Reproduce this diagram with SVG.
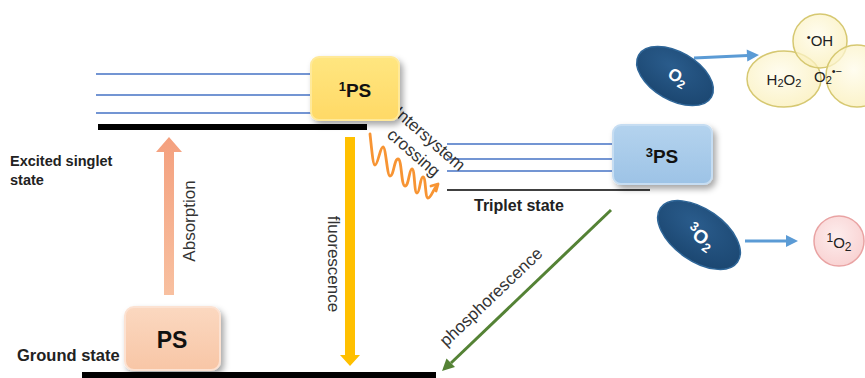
<svg xmlns="http://www.w3.org/2000/svg" width="865" height="378" viewBox="0 0 865 378">
<defs>
  <style>
    .lbl{font-family:"Liberation Sans","DejaVu Sans",sans-serif;font-weight:bold;fill:#222;}
    .rot{font-family:"Liberation Sans","DejaVu Sans",sans-serif;fill:#333;font-size:17px;}
    .box{font-family:"Liberation Sans","DejaVu Sans",sans-serif;font-weight:bold;fill:#111;text-anchor:middle;}
    .chem{font-family:"Liberation Sans","DejaVu Sans",sans-serif;fill:#222;font-size:15px;text-anchor:middle;}
    .ox{font-family:"Liberation Sans","DejaVu Sans",sans-serif;fill:#fff;font-weight:bold;text-anchor:middle;}
    .sing{stroke:#4472C4;stroke-width:1.3;fill:none;}
    .bluearr{stroke:#5B9BD5;stroke-width:3;fill:none;}
    .bubble{fill:url(#gBub);stroke:#D6C871;stroke-width:1.5;fill-opacity:0.75;}
  </style>
  <filter id="sh" x="-20%" y="-20%" width="150%" height="160%">
    <feDropShadow dx="3" dy="4" stdDeviation="3" flood-color="#000" flood-opacity="0.35"/>
  </filter>
  <linearGradient id="gY" x1="0" y1="0" x2="0" y2="1">
    <stop offset="0" stop-color="#FFE680"/><stop offset="1" stop-color="#FFD966"/>
  </linearGradient>
  <linearGradient id="gP" x1="0" y1="0" x2="0" y2="1">
    <stop offset="0" stop-color="#FBD8C0"/><stop offset="1" stop-color="#F8C6A6"/>
  </linearGradient>
  <linearGradient id="gB" x1="0" y1="0" x2="0" y2="1">
    <stop offset="0" stop-color="#B4D3EE"/><stop offset="1" stop-color="#9DC3E6"/>
  </linearGradient>
  <linearGradient id="gAbs" x1="0" y1="1" x2="0" y2="0">
    <stop offset="0" stop-color="#F8C0A0"/><stop offset="1" stop-color="#F4A07E"/>
  </linearGradient>
  <radialGradient id="gBub" cx="0.45" cy="0.4" r="0.6">
    <stop offset="0" stop-color="#FFFCEB"/><stop offset="1" stop-color="#FAEFB8"/>
  </radialGradient>
  <radialGradient id="gPink" cx="0.45" cy="0.4" r="0.6">
    <stop offset="0" stop-color="#FDEDED"/><stop offset="1" stop-color="#F9D3D3"/>
  </radialGradient>
  <radialGradient id="gDark" cx="0.4" cy="0.35" r="0.7">
    <stop offset="0" stop-color="#2A5C8C"/><stop offset="1" stop-color="#1B4670"/>
  </radialGradient>
</defs>
<rect width="865" height="378" fill="#fff"/>

<g id="levels">
  <line class="sing" x1="96" y1="74" x2="312" y2="74"/>
  <line class="sing" x1="96" y1="95" x2="312" y2="95"/>
  <line class="sing" x1="96" y1="113" x2="312" y2="113"/>
  <rect x="98" y="124" width="269" height="6" fill="#000"/>
  <line class="sing" x1="447" y1="144" x2="615" y2="144"/>
  <line class="sing" x1="447" y1="159" x2="615" y2="159"/>
  <line class="sing" x1="447" y1="171" x2="615" y2="171"/>
  <line x1="447" y1="190" x2="650" y2="190" stroke="#000" stroke-width="1.6"/>
  <rect x="82" y="372" width="354" height="6" fill="#000"/>
</g>

<g id="labels">
  <text class="lbl" x="10" y="166" font-size="14.5">Excited singlet</text>
  <text class="lbl" x="10" y="185" font-size="14.5">state</text>
  <text class="lbl" x="17" y="361" font-size="16.5">Ground state</text>
  <text class="lbl" x="474" y="211" font-size="16">Triplet state</text>
</g>

<g id="connectors">
  <polygon points="164,295 174,295 174,152 182,152 169,137 156,152 164,152" fill="url(#gAbs)"/>
  <text class="rot" transform="translate(195,221) rotate(-90)" text-anchor="middle">Absorption</text>
  <polygon points="345,137 355,137 355,355 360,355 350,366 340,355 345,355" fill="#FFC000"/>
  <text class="rot" transform="translate(328,264) rotate(90)" text-anchor="middle">fluorescence</text>
  <path d="M370 134 C372 152 373 165 375 165 C378 165 380 147 383 147 C386 147 387 176 390 176 C394 176 394 159 398 159 C402 159 401 186 405 186 C409 186 409 169 412 169 C415 169 414 193 417 193 C420 193 420 177 423 177 C426 177 425 198 428 198 C431 198 433 190 437 185" fill="none" stroke="#F79433" stroke-width="2.8" stroke-linejoin="round" stroke-linecap="round"/>
  <polyline points="431,186 438,184 436,191" fill="none" stroke="#F79433" stroke-width="2.8" stroke-linejoin="round" stroke-linecap="round"/>
  <text class="rot" transform="translate(426,143) rotate(41)" text-anchor="middle">Intersystem</text>
  <text class="rot" transform="translate(410,157) rotate(41)" text-anchor="middle">crossing</text>
  <line x1="611" y1="210" x2="451" y2="363" stroke="#548235" stroke-width="3"/>
  <polygon points="455,367 442,371 446.5,358.4" fill="#548235"/>
  <text class="rot" transform="translate(495,301) rotate(-43.5)" text-anchor="middle">phosphorescence</text>
  <line class="bluearr" x1="694" y1="58" x2="748" y2="55.5"/>
  <polygon points="747.3,61.5 759,55 746.7,49.5" fill="#5B9BD5"/>
  <line class="bluearr" x1="745" y1="241" x2="787" y2="241"/>
  <polygon points="786,235 798,241 786,247" fill="#5B9BD5"/>
</g>

<g id="node-1PS">
  <rect x="311" y="57" width="88" height="63" rx="8" fill="url(#gY)" stroke="#FFE999" stroke-width="2" filter="url(#sh)"/>
  <text class="box" x="355" y="97" font-size="19"><tspan font-size="13" dy="-6">1</tspan><tspan dy="6">PS</tspan></text>
</g>
<g id="node-3PS">
  <rect x="613" y="125" width="99" height="59" rx="8" fill="url(#gB)" stroke="#C6DDF2" stroke-width="2" filter="url(#sh)"/>
  <text class="box" x="662" y="163" font-size="19"><tspan font-size="13" dy="-6">3</tspan><tspan dy="6">PS</tspan></text>
</g>
<g id="node-PS">
  <rect x="125" y="307" width="95" height="63" rx="9" fill="url(#gP)" stroke="#FCE2D2" stroke-width="2" filter="url(#sh)"/>
  <text class="box" x="172" y="348" font-size="23">PS</text>
</g>

<g id="node-O2">
  <ellipse cx="675" cy="76" rx="42" ry="24" transform="rotate(30 675 76)" fill="url(#gDark)" stroke="#2F6698" stroke-width="1.5"/>
  <text class="ox" transform="translate(675,82) rotate(30)" font-size="17">O<tspan font-size="12" dy="3">2</tspan></text>
</g>
<g id="node-3O2">
  <ellipse cx="699" cy="235" rx="47" ry="26" transform="rotate(35 699 235)" fill="url(#gDark)" stroke="#2F6698" stroke-width="1.5"/>
  <text class="ox" transform="translate(697,242) rotate(35)" font-size="19" font-weight="normal"><tspan font-size="13" dy="-7">3</tspan><tspan dy="7">O</tspan><tspan font-size="13" dy="4">2</tspan></text>
</g>

<g id="node-H2O2">
  <ellipse class="bubble" cx="784" cy="79" rx="37" ry="28"/>
  <text class="chem" x="784" y="85">H<tspan font-size="11" dy="2">2</tspan><tspan dy="-2">O</tspan><tspan font-size="11" dy="2">2</tspan></text>
</g>
<g id="node-OH">
  <ellipse class="bubble" cx="820" cy="41" rx="27" ry="27"/>
  <text class="chem" x="820" y="46"><tspan font-size="11" dy="-5">•</tspan><tspan dy="5">OH</tspan></text>
</g>
<g id="node-O2rad">
  <ellipse class="bubble" cx="857" cy="76" rx="31" ry="31"/>
  <text class="chem" x="828" y="82" text-anchor="start">O<tspan font-size="11" dy="2">2</tspan><tspan font-size="11" dy="-9">•−</tspan></text>
</g>
<g id="node-1O2">
  <circle cx="839" cy="241" r="25" fill="url(#gPink)" stroke="#E9A3A3" stroke-width="1.5"/>
  <text class="chem" x="839" y="248" font-size="17"><tspan font-size="12" dy="-6">1</tspan><tspan dy="6">O</tspan><tspan font-size="12" dy="3">2</tspan></text>
</g>
</svg>
